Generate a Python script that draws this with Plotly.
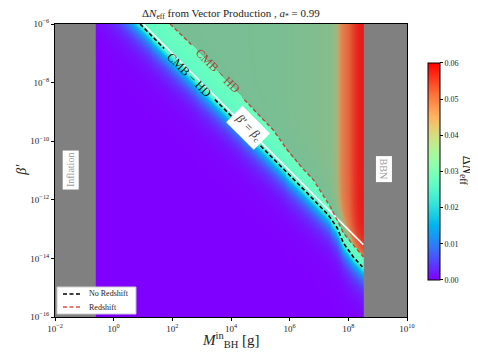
import numpy as np
import plotly.graph_objects as go

# ---------------- data (log10 units) ----------------
black_logM = [0.90, 2.0, 3.87, 5.17, 6.60, 7.32, 7.62, 7.83, 8.17, 8.48]
black_logb = [-6.0, -7.12, -9.00, -10.30, -11.77, -12.52, -12.96, -13.47, -13.95, -14.29]
red_logM = [1.92, 3.0, 4.42, 5.44, 5.92, 6.46, 6.81, 7.39, 7.62, 7.83, 8.51]
red_logb = [-6.0, -7.05, -8.55, -9.62, -10.30, -10.95, -11.32, -12.25, -12.69, -13.13, -13.95]
white_logM = [1.0, 8.51]
white_logb = [-6.0, -13.53]
plateau_logM = [-0.61, 4.0, 6.8, 7.42, 7.6, 7.72, 7.87, 8.02, 8.17, 8.32, 8.52]
plateau_dN = [0.034, 0.035, 0.037, 0.038, 0.040, 0.043, 0.046, 0.049, 0.054, 0.058, 0.060]
band_dN = [0.026, 0.028]          # value at black contour, at red contour
inflation_edge = -0.61            # log10 M where the Inflation region ends
bbn_edge = 8.52                   # log10 M where the BBN region begins
x_ticks = [-2, 0, 2, 4, 6, 8, 10]
y_ticks = [-16, -14, -12, -10, -8, -6]
cbar_ticks = [0.00, 0.01, 0.02, 0.03, 0.04, 0.05, 0.06]
legend_names = ["No Redshift", "Redshift"]

FONT = "Liberation Serif"
RED = "rgba(205,35,30,0.8)"


def interp_ext(x, xp, fp):
    xp = np.asarray(xp, float); fp = np.asarray(fp, float)
    y = np.interp(x, xp, fp)
    sl = (fp[1] - fp[0]) / (xp[1] - xp[0])
    sr = (fp[-1] - fp[-2]) / (xp[-1] - xp[-2])
    y = np.where(x < xp[0], fp[0] + sl * (x - xp[0]), y)
    y = np.where(x > xp[-1], fp[-1] + sr * (x - xp[-1]), y)
    return y


def rainbow(v):
    r = min(1, abs(2 * v - 0.5)); g = np.sin(np.pi * v); b = np.cos(np.pi * v / 2)
    return "rgb(%d,%d,%d)" % (round(255 * r), round(255 * max(g, 0)), round(255 * max(b, 0)))


# ---------------- build the ΔN_eff field ----------------
xe = np.linspace(inflation_edge, bbn_edge, 275)
ye = np.linspace(-16, -6, 294)
xc = 0.5 * (xe[1:] + xe[:-1]); yc = 0.5 * (ye[1:] + ye[:-1])
LM, LB = np.meshgrid(xc, yc)
bb = interp_ext(LM, black_logM, black_logb)
rb = interp_ext(LM, red_logM, red_logb)
pl = np.interp(LM, plateau_logM, plateau_dN)
pl_edge = np.maximum(plateau_dN[0], 0.75 * pl)
above = pl - (pl - pl_edge) * np.exp(-np.clip(LB - rb, 0, None) / 0.4)
t = np.clip((LB - bb) / np.maximum(rb - bb, 1e-6), 0, 1)
z = np.where(LB < bb, band_dN[0] * 10 ** (LB - bb),
             np.where(LB < rb, band_dN[0] + (band_dN[1] - band_dN[0]) * t, above))

# colour scale of the map as it appears in the picture
zmax = 0.06
heat_cs = []
for zz in np.arange(0, 0.0291, 0.0015):
    heat_cs.append([zz / zmax, rainbow(zz / zmax)])
for zz, c in [(0.0325, "rgb(118,190,150)"), (0.036, "rgb(122,190,147)"),
              (0.038, "rgb(135,189,140)"), (0.040, "rgb(160,182,125)"),
              (0.042, "rgb(195,165,105)"), (0.044, "rgb(225,132,82)"),
              (0.047, "rgb(228,112,68)"), (0.050, "rgb(229,92,58)"),
              (0.054, "rgb(230,62,42)"), (0.058, "rgb(231,35,28)"),
              (0.060, "rgb(232,22,22)")]:
    heat_cs.append([zz / zmax, c])
heat_cs[-1][0] = 1.0

rainbow_cs = [[v, rainbow(v)] for v in np.linspace(0, 1, 21)]

fig = go.Figure()
fig.add_trace(go.Heatmap(x=xe, y=ye, z=z, zmin=0, zmax=zmax, colorscale=heat_cs,
                         showscale=False, hoverinfo="skip", zsmooth=False))


def with_gap(xs, ys, a, b):
    xs = np.asarray(xs, float); ys = np.asarray(ys, float)
    ya = np.interp(a, xs, ys); yb = np.interp(b, xs, ys)
    lx = list(xs[xs < a]) + [a, None, b] + list(xs[xs > b])
    ly = list(ys[xs < a]) + [ya, None, yb] + list(ys[xs > b])
    return lx, ly


wx, wy = with_gap(white_logM, white_logb, 4.2, 4.98)
fig.add_trace(go.Scatter(x=wx, y=wy, mode="lines", line=dict(color="white", width=1.6),
                         showlegend=False, hoverinfo="skip", connectgaps=False))
bx, by = with_gap(black_logM, black_logb, 1.72, 3.45)
fig.add_trace(go.Scatter(x=bx, y=by, mode="lines", name=legend_names[0], showlegend=False,
                         line=dict(color="black", width=1.6, dash="4px,2.5px"),
                         hoverinfo="skip", connectgaps=False))
rx, ry = with_gap(red_logM, red_logb, 2.65, 4.45)
fig.add_trace(go.Scatter(x=rx, y=ry, mode="lines", name=legend_names[1], showlegend=False,
                         line=dict(color=RED, width=1.4, dash="4px,2.5px"),
                         hoverinfo="skip", connectgaps=False))
# colour bar (true colour map)
fig.add_trace(go.Scatter(x=[-5], y=[-20], mode="markers", showlegend=False, hoverinfo="skip",
                         marker=dict(color=[0], colorscale=rainbow_cs, cmin=0, cmax=zmax,
                                     showscale=True,
                                     colorbar=dict(x=1.0597, xanchor="left", xpad=0,
                                                   y=0.497, yanchor="middle", ypad=0,
                                                   len=0.741, lenmode="fraction", thickness=12,
                                                   outlinecolor="black", outlinewidth=1,
                                                   tickvals=cbar_ticks,
                                                   ticktext=["%.2f" % v for v in cbar_ticks],
                                                   ticks="outside", ticklen=3, tickcolor="black",
                                                   tickfont=dict(family=FONT, size=8, color="#222")))))

ann = [
    dict(text="Δ<i>N</i><sub>eff</sub> from Vector Production , <i>a</i><sub>*</sub> = 0.99",
         xref="paper", yref="paper", x=0.5, y=1.034, xanchor="center", yanchor="middle",
         showarrow=False, font=dict(family=FONT, size=11, color="#222")),
    dict(text="<i>M</i><sup>in</sup><sub>BH</sub> [g]", xref="paper", yref="paper",
         x=0.5, y=-0.078, xanchor="center", yanchor="middle", showarrow=False,
         font=dict(family=FONT, size=15, color="#222")),
    dict(text="<i>β′</i>", xref="paper", yref="paper", x=-0.094, y=0.502, textangle=-90,
         xanchor="center", yanchor="middle",
         showarrow=False, font=dict(family=FONT, size=14, color="#222")),
    dict(text="Δ<i>N</i><sub>eff</sub>", xref="paper", yref="paper", x=1.17, y=0.5, textangle=90,
         xanchor="center", yanchor="middle",
         showarrow=False, font=dict(family=FONT, size=14, color="#222")),
    dict(text="CMB − HD", x=2.58, y=-7.73, textangle=45, showarrow=False,
         font=dict(family=FONT, size=12, color="#111")),
    dict(text="CMB − HD", x=3.55, y=-7.62, textangle=45, showarrow=False,
         font=dict(family=FONT, size=12, color="#a5433a")),
    dict(text="<i>β′</i> = <i>β</i><sub>c</sub>", x=4.59, y=-9.55, textangle=45, showarrow=False,
         bgcolor="white", borderpad=3, font=dict(family=FONT, size=12, color="#333")),
    dict(text="Inflation", x=-1.45, y=-10.98, textangle=-90, showarrow=False,
         bgcolor="white", borderpad=2, font=dict(family=FONT, size=10, color="#999")),
    dict(text="BBN", x=9.23, y=-10.95, textangle=90, showarrow=False,
         bgcolor="white", borderpad=2, font=dict(family=FONT, size=10, color="#999")),
    # legend texts
    dict(text=legend_names[0], xref="paper", yref="paper", x=0.0909, y=0.0785, xanchor="left",
         yanchor="middle", showarrow=False, font=dict(family=FONT, size=8, color="#222")),
    dict(text=legend_names[1], xref="paper", yref="paper", x=0.0909, y=0.0341, xanchor="left",
         yanchor="middle", showarrow=False, font=dict(family=FONT, size=8, color="#222")),
]

shapes = [
    dict(type="rect", xref="paper", yref="paper", x0=0.0057, x1=0.230, y0=0.0102, y1=0.1024,
         fillcolor="white", line=dict(color="#cccccc", width=1), layer="above"),
    dict(type="line", xref="paper", yref="paper", x0=0.0227, x1=0.0710, y0=0.0785, y1=0.0785,
         line=dict(color="black", width=1.5, dash="4px,2.5px"), layer="above"),
    dict(type="line", xref="paper", yref="paper", x0=0.0227, x1=0.0710, y0=0.0341, y1=0.0341,
         line=dict(color=RED, width=1.4, dash="4px,2.5px"), layer="above"),
]


def sup(k):
    return "10<sup>%s</sup>" % (str(k).replace("-", "−"))


# page body has an 8px margin, so the figure is 8px smaller on each axis
fig.update_layout(
    width=470, height=347, margin=dict(l=47, r=71, t=16, b=38, autoexpand=False),
    paper_bgcolor="white", plot_bgcolor="#808080",
    font=dict(family=FONT, color="#222"),
    annotations=ann, shapes=shapes, showlegend=False,
    xaxis=dict(range=[-2, 10], tickvals=x_ticks, ticktext=[sup(k) for k in x_ticks],
               showgrid=False, zeroline=False, showline=True, mirror=True, linecolor="black",
               linewidth=1, ticks="outside", ticklen=3, tickcolor="black",
               tickfont=dict(family=FONT, size=9, color="#222")),
    yaxis=dict(range=[-16, -6], tickvals=y_ticks, ticktext=[sup(k) for k in y_ticks],
               showgrid=False, zeroline=False, showline=True, mirror=True, linecolor="black",
               linewidth=1, ticks="outside", ticklen=3, tickcolor="black",
               tickfont=dict(family=FONT, size=9, color="#222")),
)

fig.write_html("out.html")
